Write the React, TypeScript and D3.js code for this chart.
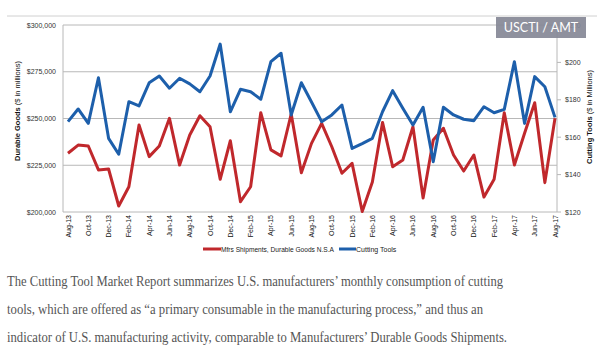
import * as d3 from "d3";

const months = [
  "Aug-13", "Sep-13", "Oct-13", "Nov-13", "Dec-13", "Jan-14", "Feb-14", "Mar-14", "Apr-14", "May-14",
  "Jun-14", "Jul-14", "Aug-14", "Sep-14", "Oct-14", "Nov-14", "Dec-14", "Jan-15", "Feb-15", "Mar-15",
  "Apr-15", "May-15", "Jun-15", "Jul-15", "Aug-15", "Sep-15", "Oct-15", "Nov-15", "Dec-15", "Jan-16",
  "Feb-16", "Mar-16", "Apr-16", "May-16", "Jun-16", "Jul-16", "Aug-16", "Sep-16", "Oct-16", "Nov-16",
  "Dec-16", "Jan-17", "Feb-17", "Mar-17", "Apr-17", "May-17", "Jun-17", "Jul-17", "Aug-17",
];

// Mfrs Shipments, Durable Goods N.S.A ($ millions, left axis)
const durableGoods = [
  231400, 235800, 235300, 222500, 223000, 203200, 213500, 246500, 229600, 235300,
  250100, 225100, 241200, 251500, 245600, 217500, 238100, 205500, 213500, 253100,
  233200, 230000, 252400, 221000, 236700, 247400, 234900, 220700, 226000, 200300,
  216000, 247900, 224200, 227800, 245600, 207500, 238500, 244800, 230500, 221900,
  230500, 208000, 217500, 253100, 225100, 242100, 258400, 215700, 250100,
];

// Cutting Tools ($ millions, right axis)
const cuttingTools = [
  168.3, 175.1, 167.4, 191.8, 159.4, 150.9, 179.0, 176.7, 189.1, 192.7,
  186.2, 191.5, 188.5, 184.3, 192.7, 209.8, 173.6, 185.6, 184.3, 180.3,
  200.4, 204.9, 171.9, 189.1, 178.8, 168.3, 171.9, 177.2, 154.0, 156.6,
  159.4, 173.6, 184.9, 175.5, 166.5, 176.0, 146.9, 176.0, 171.9, 169.6,
  168.8, 176.3, 173.1, 174.9, 200.4, 167.4, 192.4, 187.0, 170.6,
];

const leftTicks = [200000, 225000, 250000, 275000, 300000];
const rightTicks = [120, 140, 160, 180, 200, 220];

const paragraph = [
  "The Cutting Tool Market Report summarizes U.S. manufacturers\u2019 monthly consumption of cutting",
  "tools, which are offered as \u201ca primary consumable in the manufacturing process,\u201d and thus an",
  "indicator of U.S. manufacturing activity, comparable to Manufacturers\u2019 Durable Goods Shipments.",
];
const paragraphWidths = [496, 476, 500];

const RED = "#c0282c";
const BLUE = "#1d5fab";
const font = "'Liberation Sans', Arial, sans-serif";

export default function App() {
  const W = 597, H = 351;
  const left = 63, right = 557, top = 25, bottom = 212;

  const x = d3.scalePoint<string>().domain(months).range([68, 555]);
  const yL = d3.scaleLinear().domain([200000, 300000]).range([bottom, top]);
  const yR = d3.scaleLinear().domain([120, 220]).range([bottom, top]);

  const redLine = d3.line<number>()
    .x((_, i) => x(months[i])!)
    .y((d) => yL(d));
  const blueLine = d3.line<number>()
    .x((_, i) => x(months[i])!)
    .y((d) => yR(d));

  const fmtL = (v: number) => "$" + d3.format(",")(v);

  return (
    <svg width={W} height={H} style={{ position: "absolute", left: 0, top: 0, background: "#fff" }}>
      {/* top rule */}
      <line x1={7} x2={W} y1={16} y2={16} stroke="#d0d0d0" strokeWidth={1} />

      {/* gridlines */}
      {leftTicks.map((t) => (
        <line key={t} x1={left} x2={right} y1={yL(t)} y2={yL(t)} stroke="#b8b8b8" strokeWidth={1} />
      ))}
      <line x1={left} x2={left} y1={top} y2={bottom} stroke="#b8b8b8" />
      <line x1={right} x2={right} y1={top} y2={bottom} stroke="#b8b8b8" />

      {/* left ticks */}
      {leftTicks.map((t) => (
        <text key={t} x={56} y={yL(t) + 2.5} textAnchor="end" fontSize={7} fontFamily={font} fill="#333">
          {fmtL(t)}
        </text>
      ))}
      {/* right ticks */}
      {rightTicks.map((t) => (
        <g key={t}>
          <line x1={right} x2={right + 4} y1={yR(t)} y2={yR(t)} stroke="#b8b8b8" />
          <text x={565} y={yR(t) + 2.5} fontSize={7} fontFamily={font} fill="#333">{"$" + t}</text>
        </g>
      ))}

      {/* axis titles */}
      <text transform={`translate(20,${111}) rotate(-90)`} textAnchor="middle" fontSize={7.5} fontFamily={font} fill="#111">
        <tspan fontWeight="bold">Durable Goods</tspan> ($ in millions)
      </text>
      <text transform={`translate(592,${117}) rotate(-90)`} textAnchor="middle" fontSize={7.5} fontFamily={font} fill="#111">
        <tspan fontWeight="bold">Cutting Tools</tspan> ($ in Millions)
      </text>

      {/* x labels */}
      {months.filter((_, i) => i % 2 === 0).map((m) => (
        <text key={m} transform={`translate(${x(m)! + 2.5},215) rotate(-90)`} textAnchor="end"
          fontSize={7} fontFamily={font} fill="#111">{m}</text>
      ))}

      {/* series */}
      <path d={redLine(durableGoods)!} fill="none" stroke={RED} strokeWidth={3} strokeLinejoin="round" />
      <path d={blueLine(cuttingTools)!} fill="none" stroke={BLUE} strokeWidth={3} strokeLinejoin="round" />

      {/* legend */}
      <line x1={203} x2={221} y1={249} y2={249} stroke={RED} strokeWidth={3} />
      <text x={221} y={251.5} fontSize={7} fontFamily={font} fill="#222" textLength={113} lengthAdjust="spacingAndGlyphs">Mfrs Shipments, Durable Goods N.S.A</text>
      <line x1={339} x2={356} y1={249} y2={249} stroke={BLUE} strokeWidth={3} />
      <text x={356} y={251.5} fontSize={7} fontFamily={font} fill="#222">Cutting Tools</text>

      {/* badge */}
      <rect x={496} y={17} width={90} height={21} fill="#868896" opacity={0.92} />
      <text x={541} y={32} textAnchor="middle" fontSize={12.5} fontFamily="Lato, 'Open Sans', sans-serif" fill="#fff">USCTI / AMT</text>

      {/* paragraph */}
      {paragraph.map((line, i) => (
        <text key={i} x={7} y={286 + i * 28} fontSize={14.5} fontFamily="'Liberation Serif', 'DejaVu Serif', serif"
          fill="#555" textLength={paragraphWidths[i]} lengthAdjust="spacingAndGlyphs">{line}</text>
      ))}
    </svg>
  );
}
